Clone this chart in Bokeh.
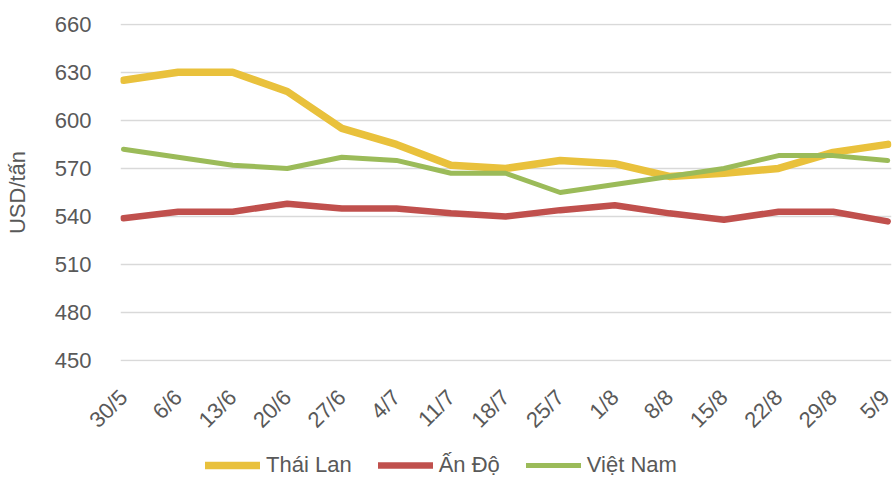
from math import pi
from bokeh.plotting import figure
from bokeh.layouts import column
from bokeh.models import Range1d, FixedTicker, Legend, LegendItem
from bokeh.embed import file_html
from bokeh.resources import INLINE

dates = ["30/5", "6/6", "13/6", "20/6", "27/6", "4/7", "11/7", "18/7",
         "25/7", "1/8", "8/8", "15/8", "22/8", "29/8", "5/9"]
thai_lan = [625, 630, 630, 618, 595, 585, 572, 570, 575, 573, 565, 567, 570, 580, 585]
an_do = [539, 543, 543, 548, 545, 545, 542, 540, 544, 547, 542, 538, 543, 543, 537]
viet_nam = [582, 577, 572, 570, 577, 575, 567, 567, 555, 560, 565, 570, 578, 578, 575]
y_ticks = [450, 480, 510, 540, 570, 600, 630, 660]
series_names = ["Thái Lan", "Ấn Độ", "Việt Nam"]

FONT = "Liberation Sans"
TXT = "#595959"
COLORS = ["#E9C13C", "#C0504D", "#9BBB59"]
WIDTHS = [7.5, 6.5, 5]

x = list(range(len(dates)))
series = [thai_lan, an_do, viet_nam]

p = figure(width=894, height=445, x_range=Range1d(-0.055, 14.07),
           y_range=Range1d(449.6, 660.4), output_backend="svg",
           toolbar_location=None, min_border_top=23, min_border_left=120,
           min_border_right=3, min_border_bottom=84)
p.outline_line_color = None
p.xgrid.visible = False
p.ygrid.grid_line_color = "#D9D9D9"
p.ygrid.grid_line_width = 1.5

yax = p.yaxis[0]
yax.ticker = FixedTicker(ticks=y_ticks)
yax.axis_line_color = None
yax.major_tick_line_color = None
yax.minor_tick_line_color = None
yax.major_tick_out = 0
yax.major_label_text_font_size = "22px"
yax.major_label_text_font = FONT
yax.major_label_text_color = TXT
yax.major_label_standoff = 29
yax.axis_label = "USD/tấn"
yax.axis_label_text_font_size = "22px"
yax.axis_label_text_font = FONT
yax.axis_label_text_font_style = "normal"
yax.axis_label_text_color = TXT
yax.axis_label_standoff = 22

xax = p.xaxis[0]
xax.ticker = FixedTicker(ticks=x)
xax.major_label_overrides = {i: d for i, d in zip(x, dates)}
xax.major_label_orientation = pi / 4
xax.axis_line_color = None
xax.major_tick_line_color = None
xax.minor_tick_line_color = None
xax.major_tick_out = 0
xax.major_label_text_font_size = "22px"
xax.major_label_text_font = FONT
xax.major_label_text_color = TXT
xax.major_label_standoff = 32

for vals, c, w in zip(series, COLORS, WIDTHS):
    p.line(x, vals, line_color=c, line_width=w, line_cap="round", line_join="round")

# legend strip (separate figure so the legend is not clipped by the plot frame)
lg = figure(width=894, height=34, x_range=Range1d(0, 1), y_range=Range1d(0, 1),
            output_backend="svg", toolbar_location=None, min_border=0)
lg.axis.visible = False
lg.grid.visible = False
lg.outline_line_color = None
items = []
for name, vals, c, w in zip(series_names, series, COLORS, WIDTHS):
    # proxy renderer: its data lies outside this strip's range, only the legend sample shows
    r = lg.line(x, vals, line_color=c, line_width=w, line_cap="round")
    items.append(LegendItem(label=name, renderers=[r]))
legend = Legend(items=items, orientation="horizontal", location=(85, 1),
                border_line_color=None, background_fill_alpha=0,
                margin=0, padding=0, spacing=26, glyph_width=55,
                glyph_height=20, label_height=20, label_standoff=6,
                label_text_font_size="22px", label_text_font=FONT,
                label_text_color=TXT)
lg.add_layout(legend, "center")

layout = column(p, lg, spacing=0)
open("out.html", "w").write(file_html(layout, INLINE))
